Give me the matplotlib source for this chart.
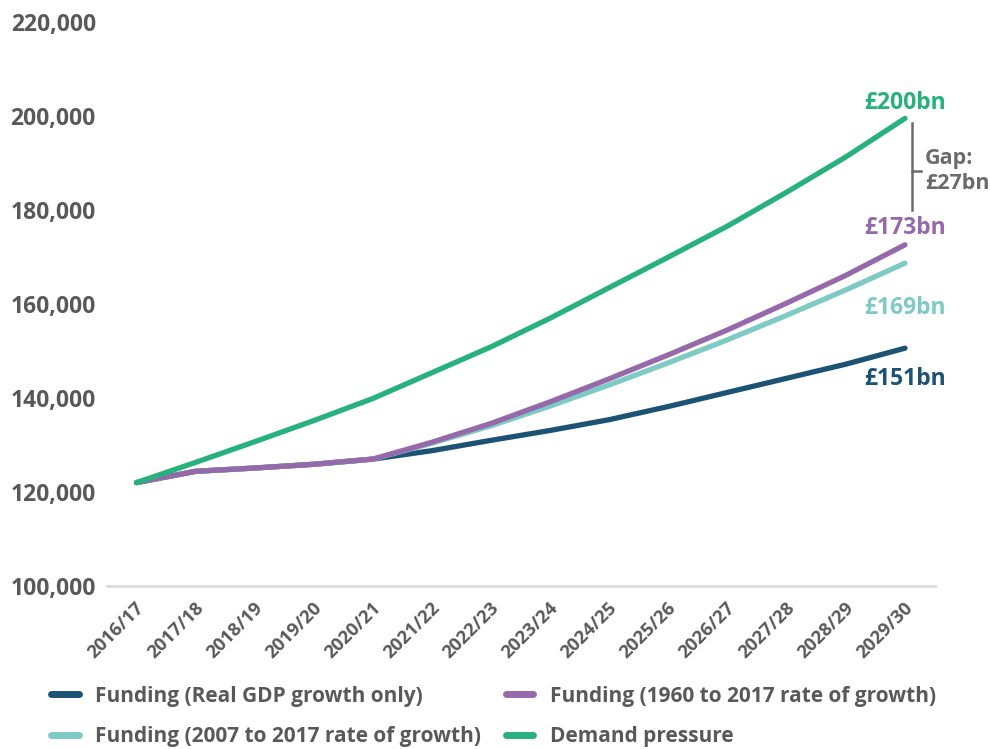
import matplotlib
matplotlib.use("Agg")
import matplotlib.pyplot as plt
from matplotlib.lines import Line2D
from matplotlib.ticker import FuncFormatter
import matplotlib.transforms as mtransforms

plt.rcParams['font.family'] = ['Open Sans', 'DejaVu Sans']
plt.rcParams['font.weight'] = 'bold'

years = ["2016/17", "2017/18", "2018/19", "2019/20", "2020/21", "2021/22", "2022/23",
         "2023/24", "2024/25", "2025/26", "2026/27", "2027/28", "2028/29", "2029/30"]

# £ million, real terms
real_gdp_only = [122000, 124400, 125100, 125900, 127000, 128800, 131000,
                 133100, 135400, 138200, 141200, 144200, 147200, 150600]
rate_2007_2017 = [122000, 124400, 125100, 125900, 127000, 130400, 134100,
                  138300, 142800, 147500, 152400, 157600, 163000, 168700]
rate_1960_2017 = [122000, 124400, 125100, 125900, 127000, 130600, 134600,
                  139200, 144100, 149200, 154500, 160200, 166100, 172600]
demand_pressure = [122000, 126300, 130700, 135200, 139900, 145400, 150900,
                   157000, 163500, 170000, 176600, 183800, 191300, 199500]

series = [
    ("Funding (Real GDP growth only)", real_gdp_only, "#1c5274"),
    ("Funding (2007 to 2017 rate of growth)", rate_2007_2017, "#7ecac5"),
    ("Funding (1960 to 2017 rate of growth)", rate_1960_2017, "#9669ab"),
    ("Demand pressure", demand_pressure, "#27b17c"),
]

text_grey = "#595959"

fig = plt.figure(figsize=(9.9, 7.49), dpi=100)
ax = fig.add_axes([0.108, 1 - 586 / 749, 0.836, (586 - 22) / 749])

x = list(range(len(years)))
for label, vals, col in series:
    ax.plot(x, vals, color=col, lw=3.8, solid_capstyle='round',
            solid_joinstyle='round', label=label)

ax.set_xlim(-0.5, len(years) - 0.5)
ax.set_ylim(100000, 220000)
ax.set_yticks(range(100000, 220001, 20000))
ax.yaxis.set_major_formatter(FuncFormatter(lambda v, p: f"{int(v):,}"))
ax.set_xticks(x)
ax.set_xticklabels(years, rotation=45, ha='right', va='top', rotation_mode='anchor')

for s in ['top', 'right', 'left']:
    ax.spines[s].set_visible(False)
ax.spines['bottom'].set_color('#dcdcdc')
ax.spines['bottom'].set_linewidth(2)
ax.tick_params(axis='both', length=0, colors=text_grey)
ax.tick_params(axis='y', labelsize=16.5, pad=8)
ax.tick_params(axis='x', labelsize=13.3, pad=9)
for t in ax.get_xticklabels():
    t.set_transform(t.get_transform() + mtransforms.ScaledTranslation(-1 / 72, 0, fig.dpi_scale_trans))

# end-of-line value labels
last = len(years) - 1
label_offsets = {"#1c5274": -22, "#7ecac5": -32, "#9669ab": 12, "#27b17c": 11}
for label, vals, col in series:
    ax.annotate(f"£{vals[-1] / 1000:.0f}bn", (last, vals[-1]),
                xytext=(0, label_offsets[col]), textcoords='offset points',
                ha='center', va='center', color=col, fontsize=16.5, fontweight='bold')

# bracket showing the gap between demand and the highest funding path
gap = demand_pressure[-1] - rate_1960_2017[-1]
top = demand_pressure[-1] - 1000
bottom = rate_1960_2017[-1] + 7500
mid = (top + bottom) / 2 - 1000
bx = last + 0.12
ax.plot([bx, bx], [top, bottom], color='#6b6b6b', lw=1.8, clip_on=False)
ax.plot([bx, bx + 0.15], [mid, mid], color='#6b6b6b', lw=1.8, clip_on=False)
ax.text(bx + 0.22, mid, f"Gap:\n£{gap / 1000:.0f}bn", ha='left', va='center',
        color='#6b6b6b', fontsize=15.5, fontweight='bold', linespacing=1.3)

handles = [Line2D([], [], color=c, lw=5, solid_capstyle='round') for _, _, c in series]
fig.legend(handles, [s[0] for s in series],
           loc='center left', bbox_to_anchor=(0.033, 1 - 716.5 / 749), ncol=2, frameon=False,
           fontsize=15, handlelength=1.3, handletextpad=0.8, columnspacing=1.2,
           labelspacing=0.95, labelcolor=text_grey)

fig.savefig("out.png", dpi=100)
